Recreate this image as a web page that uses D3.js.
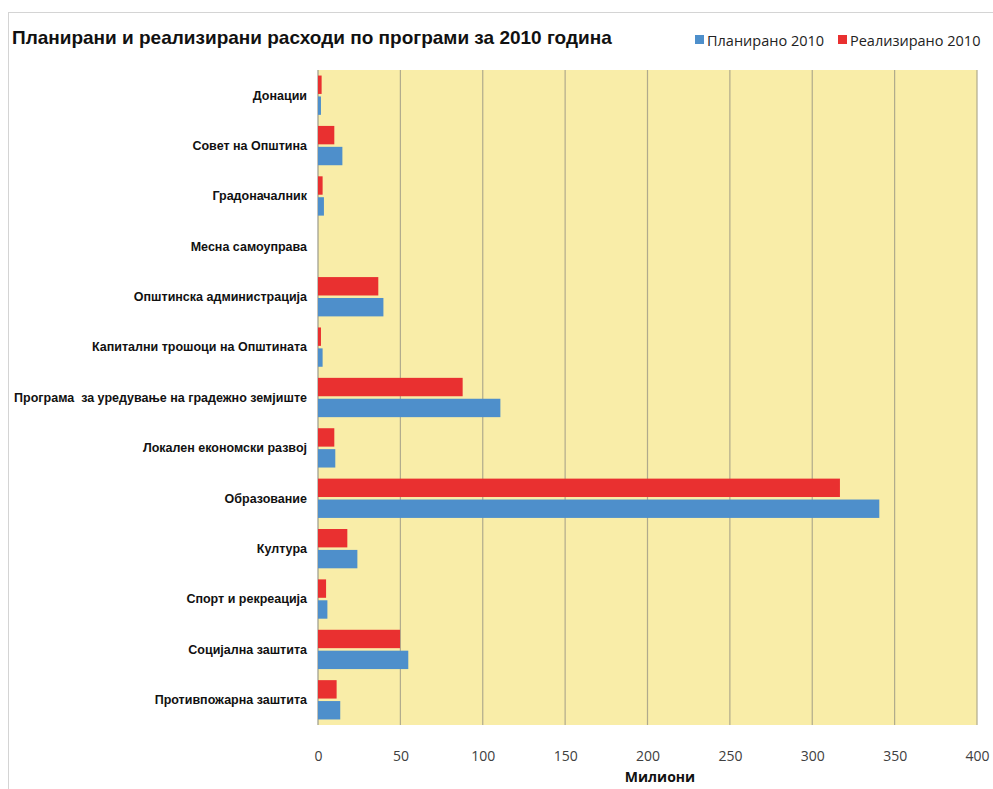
<!DOCTYPE html>
<html><head><meta charset="utf-8">
<script src="https://cdn.jsdelivr.net/npm/d3@7"></script>
<style>body{margin:0;background:#fff}svg{display:block}</style>
</head><body>
<svg id="c" width="993" height="789"></svg>
<script>
const categories = ["Донации","Совет на Општина","Градоначалник","Месна самоуправа","Општинска администрација","Капитални трошоци на Општината","Програма  за уредување на градежно земјиште","Локален економски развој","Образование","Култура","Спорт и рекреација","Социјална заштита","Противпожарна заштита"];
const planned = [1.8,14.8,3.6,0,39.7,2.8,110.7,10.5,340.7,23.9,5.7,54.8,13.5];
const realized = [2.2,9.9,2.8,0,36.6,1.8,87.8,9.9,316.8,17.8,4.9,49.8,11.3];
const seriesNames = ["Планирано 2010","Реализирано 2010"];
const xTicks = [0,50,100,150,200,250,300,350,400];

const svg = d3.select("#c");
const L=318,R=977,T=70,B=725;
svg.append("rect").attr("x",8.5).attr("y",12.5).attr("width",1000).attr("height",800).attr("fill","#fff").attr("stroke","#d4d4d4");
svg.append("rect").attr("x",L).attr("y",T).attr("width",R-L).attr("height",B-T).attr("fill","#F9EDA8");

const x = d3.scaleLinear().domain([0,400]).range([L,R]);
const y = d3.scaleBand().domain(categories).range([T,B]).paddingInner(0.22).paddingOuter(0.11);
const ys = d3.scaleBand().domain(["r","p"]).range([0,y.bandwidth()]).paddingInner(0.12);

svg.append("g").selectAll("line").data(xTicks).join("line")
  .attr("x1",d=>x(d)).attr("x2",d=>x(d)).attr("y1",T).attr("y2",B)
  .attr("stroke",d=>d===0?"#9a9a8a":"#b0aa8c").attr("stroke-width",1.2);

const rows = categories.map((c,i)=>({c,p:planned[i],r:realized[i]}));
const g = svg.append("g");
g.selectAll(".r").data(rows).join("rect").attr("class","r")
  .attr("x",x(0)).attr("y",d=>y(d.c)+ys("r")).attr("height",ys.bandwidth())
  .attr("width",d=>x(d.r)-x(0)).attr("fill","#E93030");
g.selectAll(".p").data(rows).join("rect").attr("class","p")
  .attr("x",x(0)).attr("y",d=>y(d.c)+ys("p")).attr("height",ys.bandwidth())
  .attr("width",d=>x(d.p)-x(0)).attr("fill","#4E8FCB");

const ax = d3.axisBottom(x).tickValues(xTicks).tickSize(0).tickPadding(0);
const axg = svg.append("g").attr("transform",`translate(0,${B})`).call(ax);
axg.select(".domain").remove();
axg.selectAll("text").attr("dy",0).attr("y",36).attr("font-family","Open Sans").attr("font-size",14).attr("fill","#404040");

const ay = d3.axisLeft(y).tickSize(0).tickPadding(0);
const ayg = svg.append("g").attr("transform",`translate(307,0)`).call(ay);
ayg.select(".domain").remove();
ayg.selectAll("text").attr("xml:space","preserve").style("white-space","pre").attr("font-family","Liberation Sans Narrow, Arial Narrow, sans-serif").attr("font-weight","bold").attr("font-size",12.5).attr("fill","#111").attr("dy","0.35em");

svg.append("text").attr("x",660).attr("y",782).attr("text-anchor","middle")
  .attr("font-family","Open Sans").attr("font-weight","bold").attr("font-size",14).attr("fill","#111").text("Милиони");

svg.append("text").attr("x",12).attr("y",44).attr("font-family","Liberation Sans Narrow, Arial Narrow, sans-serif")
  .attr("font-weight","bold").attr("font-size",19).attr("fill","#111").text("Планирани и реализирани расходи по програми за 2010 година");

const leg = svg.append("g");
const lx=[695,838], colors=["#4E8FCB","#E93030"];
seriesNames.forEach((s,i)=>{
  leg.append("rect").attr("x",lx[i]).attr("y",35).attr("width",9).attr("height",9).attr("fill",colors[i]);
  leg.append("text").attr("x",lx[i]+12).attr("y",45.5).attr("font-family","Open Sans").attr("font-size",14.5).attr("fill","#222").text(s);
});
</script>
</body></html>
